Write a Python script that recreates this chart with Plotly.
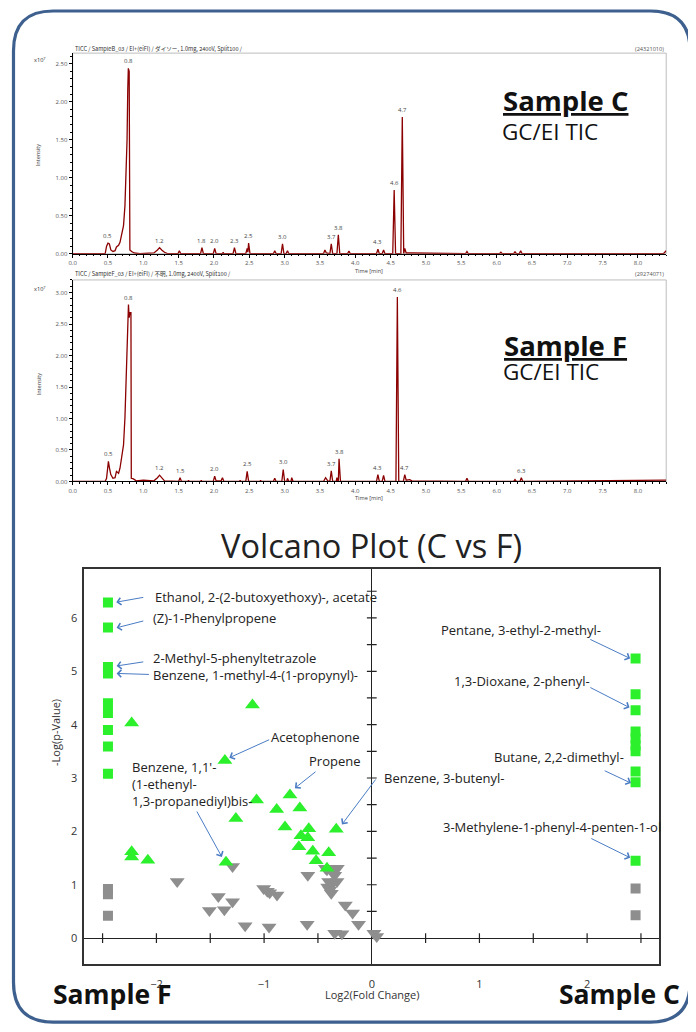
import plotly.graph_objects as go

W, H = 696, 1032

# ---------------- Sample C TIC (x10^7) ----------------
time_c = [0.00, 0.46, 0.48, 0.50, 0.52, 0.54, 0.57, 0.60, 0.62, 0.65, 0.67, 0.69, 0.72, 0.74, 0.755,
          0.77, 0.78, 0.788, 0.80, 0.806, 0.81, 0.835, 0.87, 0.95, 1.15, 1.20, 1.23, 1.26, 1.30, 1.35,
          1.49, 1.51, 1.53, 1.81, 1.83, 1.85, 1.99, 2.01, 2.03, 2.12, 2.13, 2.14, 2.27, 2.29, 2.31,
          2.45, 2.47, 2.48, 2.49, 2.51, 2.84, 2.86, 2.88, 2.95, 2.97, 2.99, 3.02, 3.04, 3.06, 3.55,
          3.57, 3.59, 3.64, 3.66, 3.68, 3.74, 3.76, 3.78, 3.89, 3.91, 3.93, 4.30, 4.32, 4.34, 4.38,
          4.40, 4.42, 4.53, 4.55, 4.57, 4.645, 4.665, 4.685, 4.70, 4.72, 4.80, 5.56, 5.58, 5.60,
          6.04, 6.06, 6.08, 6.24, 6.26, 6.28, 6.32, 6.34, 6.36, 8.36, 8.40]
inten_c = [0.00, 0.00, 0.10, 0.14, 0.13, 0.05, 0.03, 0.04, 0.09, 0.11, 0.15, 0.24, 0.37, 0.63, 0.98,
           1.50, 2.16, 2.44, 2.40, 1.07, 0.05, 0.03, 0.01, 0.00, 0.01, 0.05, 0.08, 0.05, 0.02, 0.00,
           0.00, 0.04, 0.00, 0.00, 0.08, 0.00, 0.00, 0.07, 0.00, 0.00, 0.02, 0.00, 0.00, 0.08, 0.00,
           0.00, 0.07, 0.02, 0.14, 0.00, 0.00, 0.04, 0.00, 0.00, 0.13, 0.00, 0.00, 0.04, 0.00, 0.00,
           0.05, 0.01, 0.00, 0.13, 0.00, 0.00, 0.25, 0.00, 0.00, 0.035, 0.00, 0.00, 0.06, 0.00, 0.00,
           0.05, 0.00, 0.00, 0.84, 0.00, 0.00, 1.80, 0.00, 0.07, 0.01, 0.01, 0.00, 0.03, 0.00,
           0.00, 0.02, 0.00, 0.00, 0.025, 0.00, 0.00, 0.04, 0.00, 0.00, 0.04]
peak_t_c = [0.50, 0.788, 1.23, 1.83, 2.01, 2.29, 2.49, 2.97, 3.66, 3.76, 4.32, 4.55, 4.665]
peak_i_c = [0.14, 2.44, 0.08, 0.08, 0.07, 0.08, 0.14, 0.13, 0.13, 0.25, 0.06, 0.84, 1.80]
peak_lbl_c = ["0.5", "0.8", "1.2", "1.8", "2.0", "2.3", "2.5", "3.0", "3.7", "3.8", "4.3", "4.6", "4.7"]

# ---------------- Sample F TIC (x10^7) ----------------
time_f = [0.00, 0.46, 0.48, 0.50, 0.506, 0.52, 0.54, 0.57, 0.60, 0.62, 0.65, 0.67, 0.69, 0.72, 0.74,
          0.76, 0.77, 0.79, 0.80, 0.81, 0.825, 0.83, 0.86, 0.90, 1.00, 1.15, 1.20, 1.23, 1.26, 1.30,
          1.50, 1.52, 1.54, 1.63, 1.64, 1.65, 1.81, 1.82, 1.83, 1.99, 2.01, 2.03, 2.10, 2.12, 2.14,
          2.36, 2.37, 2.38, 2.45, 2.47, 2.49, 2.65, 2.66, 2.67, 2.84, 2.86, 2.88, 2.96, 2.98, 3.00,
          3.03, 3.04, 3.06, 3.09, 3.10, 3.12, 3.55, 3.58, 3.61, 3.64, 3.66, 3.68, 3.73, 3.74, 3.755,
          3.76, 3.77, 3.79, 4.30, 4.32, 4.34, 4.38, 4.40, 4.42, 4.575, 4.595, 4.615, 4.68, 4.70,
          4.72, 4.77, 4.80, 5.56, 5.58, 5.60, 6.24, 6.26, 6.28, 6.33, 6.35, 6.37, 8.40]
inten_f = [0.00, 0.00, 0.05, 0.28, 0.32, 0.22, 0.11, 0.05, 0.06, 0.16, 0.13, 0.21, 0.37, 0.58, 1.01,
           1.64, 2.28, 2.81, 2.60, 2.68, 2.68, 0.05, 0.04, 0.01, 0.02, 0.01, 0.06, 0.10, 0.06, 0.01,
           0.00, 0.06, 0.00, 0.00, 0.02, 0.00, 0.00, 0.02, 0.00, 0.00, 0.085, 0.01, 0.01, 0.06, 0.00,
           0.00, 0.02, 0.00, 0.00, 0.16, 0.00, 0.00, 0.02, 0.00, 0.00, 0.05, 0.00, 0.00, 0.19, 0.00,
           0.00, 0.05, 0.00, 0.00, 0.06, 0.00, 0.00, 0.06, 0.01, 0.00, 0.17, 0.00, 0.00, 0.06, 0.00,
           0.00, 0.36, 0.00, 0.00, 0.11, 0.00, 0.00, 0.095, 0.00, 0.00, 2.93, 0.00, 0.00, 0.11,
           0.02, 0.03, 0.01, 0.00, 0.05, 0.00, 0.00, 0.03, 0.00, 0.00, 0.06, 0.00, 0.02]
peak_t_f = [0.506, 0.79, 1.23, 1.52, 2.01, 2.47, 2.98, 3.66, 3.77, 4.32, 4.595, 4.70, 6.35]
peak_i_f = [0.32, 2.81, 0.10, 0.06, 0.085, 0.16, 0.19, 0.17, 0.36, 0.11, 2.93, 0.11, 0.06]
peak_lbl_f = ["0.5", "0.8", "1.2", "1.5", "2.0", "2.5", "3.0", "3.7", "3.8", "4.3", "4.6", "4.7", "6.3"]

# ---------------- Volcano plot ----------------
green_sq_x = [-2.45, -2.45, -2.45, -2.45, -2.45, -2.45, -2.45, -2.45, -2.45,
              2.45, 2.45, 2.45, 2.45, 2.45, 2.45, 2.45, 2.45, 2.45, 2.45]
green_sq_y = [6.29, 5.82, 5.08, 4.96, 4.40, 4.22, 3.90, 3.59, 3.08,
              5.24, 4.57, 4.27, 3.87, 3.74, 3.61, 3.50, 3.12, 2.92, 1.45]
gray_sq_x = [-2.45, -2.45, -2.45, 2.45, 2.45]
gray_sq_y = [0.92, 0.82, 0.42, 0.93, 0.43]
green_tri_x = [-2.23, -1.108, -1.364, -1.07, -1.262, -0.76, -0.883, -0.668, -0.806, -0.585, -0.658,
               -0.594, -0.677, -0.548, -0.517, -0.40, -0.416, -0.33, -2.23, -2.23, -2.08, -1.354]
green_tri_y = [4.03, 4.37, 3.33, 2.59, 2.24, 2.68, 2.41, 2.44, 2.08, 2.05, 1.92,
               1.88, 1.71, 1.63, 1.45, 1.60, 1.31, 2.04, 1.62, 1.52, 1.46, 1.42]
gray_tri_x = [-1.293, -1.807, -1.425, -1.508, -1.369, -1.293, -1.176, -0.954, -1.004, -0.97, -0.948,
              -0.88, -0.594, -0.60, -0.416, -0.369, -0.33, -0.344, -0.40, -0.363, -0.323, -0.39,
              -0.409, -0.376, -0.43, -0.32, -0.246, -0.178, -0.123, -0.344, -0.277, 0.02, 0.046]
gray_tri_y = [1.34, 1.06, 0.78, 0.52, 0.53, 0.68, 0.23, 0.21, 0.93, 0.88, 0.85,
              0.81, 1.18, 0.26, 1.28, 1.24, 1.31, 1.18, 1.06, 1.03, 1.06, 0.90,
              0.96, 0.84, 1.31, 1.31, 0.62, 0.47, 0.26, 0.09, 0.08, 0.09, 0.03]
axis_ticks = [-2.5, -2.0, -1.5, -1.0, -0.5, 0.5, 1.0, 1.5, 2.0, 2.5]
yaxis_ticks = [0.5, 1.0, 1.5, 2.0, 2.5, 3.0, 3.5, 4.0, 4.5, 5.0, 5.5, 6.0, 6.5]

GREEN = "#2CF02C"
GRAY = "#8E8E8E"
RED = "#8B0000"
ARROW = "#4A7CC4"
FONT = "Open Sans"
OFF = 8  # page offset of the figure inside the browser window


def px(x):
    return (x - OFF) / W


def py(y):
    return 1 - (y - OFF) / H


fig = go.Figure()

fig.add_trace(go.Scatter(x=time_c, y=inten_c, mode="lines", line=dict(color=RED, width=1.3),
                         xaxis="x", yaxis="y", hoverinfo="skip"))
fig.add_trace(go.Scatter(x=time_f, y=inten_f, mode="lines", line=dict(color=RED, width=1.3),
                         xaxis="x2", yaxis="y2", hoverinfo="skip"))

fig.add_trace(go.Scatter(x=axis_ticks, y=[0] * len(axis_ticks), mode="markers", xaxis="x3", yaxis="y3",
                         marker=dict(symbol="line-ns", size=7, line=dict(color="#222", width=1.2))))
fig.add_trace(go.Scatter(x=[0] * len(yaxis_ticks), y=yaxis_ticks, mode="markers", xaxis="x3", yaxis="y3",
                         marker=dict(symbol="line-ew", size=7, line=dict(color="#222", width=1.2))))

fig.add_trace(go.Scatter(x=gray_tri_x, y=gray_tri_y, mode="markers", xaxis="x3", yaxis="y3",
                         marker=dict(symbol="triangle-down", size=13, color=GRAY)))
fig.add_trace(go.Scatter(x=green_tri_x, y=green_tri_y, mode="markers", xaxis="x3", yaxis="y3",
                         marker=dict(symbol="triangle-up", size=13, color=GREEN)))
fig.add_trace(go.Scatter(x=gray_sq_x, y=gray_sq_y, mode="markers", xaxis="x3", yaxis="y3",
                         marker=dict(symbol="square", size=10, color=GRAY)))
fig.add_trace(go.Scatter(x=green_sq_x, y=green_sq_y, mode="markers", xaxis="x3", yaxis="y3",
                         marker=dict(symbol="square", size=10, color=GREEN)))

chrom_x = dict(range=[0, 8.4], showline=True, linecolor="black", linewidth=1, ticks="outside",
               ticklen=3, tickwidth=1, tickcolor="black", dtick=0.5, tick0=0, tickformat=".1f",
               tickfont=dict(size=6, color="#555"), showgrid=False, zeroline=False,
               minor=dict(dtick=0.1, ticklen=1.5, ticks="outside", tickcolor="black", showgrid=False))
chrom_y = dict(showline=True, linecolor="black", linewidth=1, ticks="outside", ticklen=3,
               tickcolor="black", dtick=0.5, tick0=0, tickformat=".2f",
               tickfont=dict(size=6, color="#555"), showgrid=False, zeroline=False,
               minor=dict(dtick=0.1, ticklen=1.5, ticks="outside", tickcolor="black", showgrid=False))

fig.update_layout(
    width=W, height=H, margin=dict(l=0, r=0, t=0, b=0),
    paper_bgcolor="white", plot_bgcolor="white", showlegend=False,
    font=dict(family=FONT, color="#222"),
    xaxis=dict(domain=[px(69), px(666)], anchor="y", **chrom_x),
    yaxis=dict(domain=[py(254.7), py(53.3)], anchor="x", range=[0, 2.64], **chrom_y),
    xaxis2=dict(domain=[px(69), px(666)], anchor="y2", **chrom_x),
    yaxis2=dict(domain=[py(483.3), py(281)], anchor="x2", range=[0, 3.2], **chrom_y),
    xaxis3=dict(domain=[px(80.7), px(659)], anchor="y3", range=[-2.67, 2.67], dtick=1, tick0=0,
                showline=True, mirror=True, linecolor="#333", linewidth=1.5, ticks="outside",
                ticklen=9, tickcolor="rgba(0,0,0,0)", tickfont=dict(size=11, color="#333"),
                showgrid=False, zeroline=True, zerolinecolor="#222", zerolinewidth=1.3),
    yaxis3=dict(domain=[py(968), py(571)], anchor="x3", range=[-0.49, 6.92], dtick=1, tick0=0,
                showline=True, mirror=True, linecolor="#333", linewidth=1.5, ticks="outside",
                ticklen=3, tickcolor="rgba(0,0,0,0)", tickfont=dict(size=11, color="#333"),
                showgrid=False, zeroline=True, zerolinecolor="#222", zerolinewidth=1.3),
)

shapes = []
for xr, yr in (("x", "y"), ("x2", "y2")):
    shapes.append(dict(type="rect", xref=xr + " domain", yref=yr + " domain", x0=0, x1=1, y0=0, y1=1,
                       line=dict(color="#BDBDBD", width=1), layer="below"))
L, R, T, B, r = 9.5, 690, 11, 1026, 40
path = (f"M {px(L + r)},{py(T)} L {px(R - r)},{py(T)} Q {px(R)},{py(T)} {px(R)},{py(T + r)} "
        f"L {px(R)},{py(B - r)} Q {px(R)},{py(B)} {px(R - r)},{py(B)} "
        f"L {px(L + r)},{py(B)} Q {px(L)},{py(B)} {px(L)},{py(B - r)} "
        f"L {px(L)},{py(T + r)} Q {px(L)},{py(T)} {px(L + r)},{py(T)} Z")
shapes.append(dict(type="path", xref="paper", yref="paper", path=path,
                   line=dict(color="#3E608F", width=3.2)))
fig.update_layout(shapes=shapes)

ann = []


def text(x, y, t, size, xanchor="center", yanchor="middle", color="#222", angle=0, family=FONT, align="left"):
    ann.append(dict(x=px(x), y=py(y), xref="paper", yref="paper", text=t, showarrow=False,
                    xanchor=xanchor, yanchor=yanchor, textangle=angle, align=align,
                    font=dict(size=size, color=color, family=family)))


text(69, 49.5, "TICC / SampleB_03 / EI+(eiFI) / ダイソー, 1.0mg, 2400V, Split100 /", 5.6, "left",
     family="Noto Sans CJK JP", color="#333")
text(666, 49.5, "(24321010)", 5.6, "right", color="#555")
text(69, 275, "TICC / SampleF_03 / EI+(eiFI) / 不明, 1.0mg, 2400V, Split100 /", 5.6, "left",
     family="Noto Sans CJK JP", color="#333")
text(666, 275, "(29274071)", 5.6, "right", color="#555")
for yy in (60, 290):
    text(36, yy, "x10<sup>7</sup>", 5.6, color="#333")
for yy in (155, 385):
    text(35, yy, "Intensity", 5.6, angle=-90, color="#333")
text(367, 272, "Time [min]", 5.6, color="#444")
text(367, 500, "Time [min]", 5.6, color="#444")

for t, i, lbl in zip(peak_t_c, peak_i_c, peak_lbl_c):
    ann.append(dict(x=t, y=i, xref="x", yref="y", text=lbl, showarrow=False, yanchor="bottom",
                    yshift=1, font=dict(size=6, color="#444")))
for t, i, lbl in zip(peak_t_f, peak_i_f, peak_lbl_f):
    ann.append(dict(x=t, y=i, xref="x2", yref="y2", text=lbl, showarrow=False, yanchor="bottom",
                    yshift=1, font=dict(size=6, color="#444")))

text(500, 101, "<b><u>Sample C</u></b>", 27.5, "left", color="#111")
text(499, 132, "GC/EI TIC", 22.5, "left", color="#111")
text(501, 347, "<b><u>Sample F</u></b>", 27.5, "left", color="#111")
text(500, 373, "GC/EI TIC", 22.5, "left", color="#111")

text(370, 548, "Volcano Plot (C vs F)", 32.5, color="#222")
text(51, 735, "-Log(p-Value)", 11, angle=-90, color="#333")
text(370, 998, "Log2(Fold Change)", 11, color="#333")
text(109, 998, "<b>Sample F</b>", 26.5, color="#111")
text(619, 998, "<b>Sample C</b>", 26.5, color="#111")

vlabels = [
    ("Ethanol, 2-(2-butoxyethoxy)-, acetate", -2.031, 6.40, "left"),
    ("(Z)-1-Phenylpropene", -2.047, 6.00, "left"),
    ("2-Methyl-5-phenyltetrazole", -2.047, 5.24, "left"),
    ("Benzene, 1-methyl-4-(1-propynyl)-", -2.047, 4.93, "left"),
    ("Acetophenone", -0.519, 3.76, "center"),
    ("Propene", -0.342, 3.32, "center"),
    ("Benzene, 3-butenyl-", 0.674, 3.00, "center"),
    ("Benzene, 1,1'-<br>(1-ethenyl-<br>1,3-propanediyl)bis-", -2.247, 2.886, "left"),
    ("Pentane, 3-ethyl-2-methyl-", 1.382, 5.765, "center"),
    ("1,3-Dioxane, 2-phenyl-", 1.399, 4.81, "center"),
    ("Butane, 2,2-dimethyl-", 1.742, 3.40, "center"),
    ("3-Methylene-1-phenyl-4-penten-1-ol", 1.671, 2.084, "center"),
]
for t, x, y, anc in vlabels:
    ann.append(dict(x=x, y=y, xref="x3", yref="y3", text=t, showarrow=False, xanchor=anc,
                    yanchor="middle", align="left", font=dict(size=13, color="#222")))

arrows = [
    (-2.373, 6.295, -2.108, 6.39),
    (-2.37, 5.815, -2.108, 5.95),
    (-2.37, 5.10, -2.108, 5.18),
    (-2.37, 4.96, -2.056, 4.94),
    (-1.323, 3.38, -0.939, 3.73),
    (-0.714, 2.81, -0.508, 3.14),
    (-0.277, 2.13, 0.046, 3.00),
    (-1.392, 1.52, -1.632, 2.40),
    (2.40, 5.24, 2.016, 5.61),
    (2.394, 4.32, 2.016, 4.71),
    (2.407, 2.905, 2.149, 3.15),
    (2.40, 1.506, 2.025, 1.88),
]
for hx, hy, tx, ty in arrows:
    ann.append(dict(x=hx, y=hy, ax=tx, ay=ty, xref="x3", yref="y3", axref="x3", ayref="y3",
                    text="", showarrow=True, arrowhead=4, arrowsize=1.4, arrowwidth=1,
                    arrowcolor=ARROW, standoff=0, startstandoff=0))

fig.update_layout(annotations=ann)
fig.write_html("out.html")
